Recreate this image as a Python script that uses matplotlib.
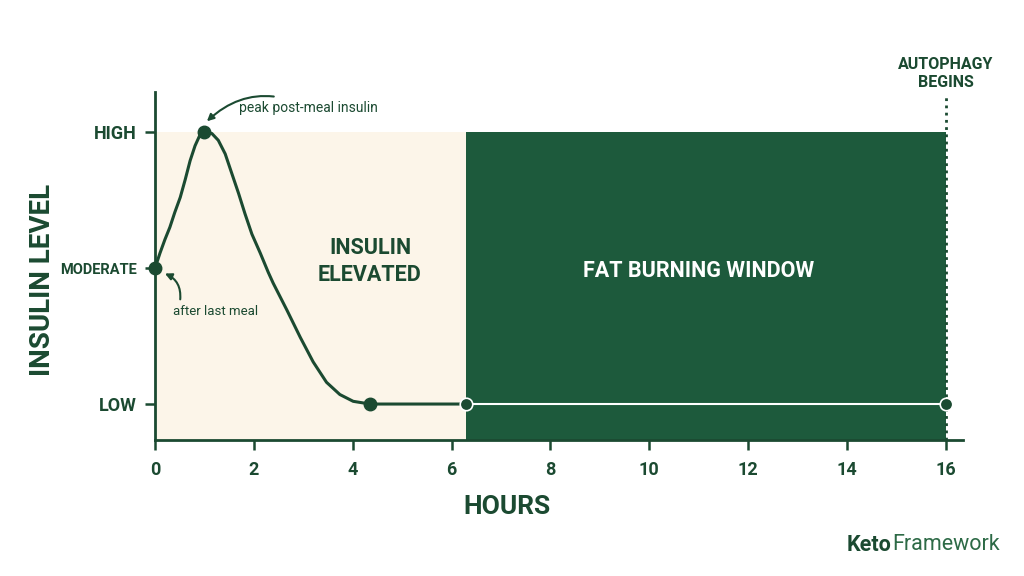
import matplotlib
matplotlib.use("Agg")
import matplotlib.pyplot as plt

# Data
hours = [0.0, 0.10, 0.20, 0.30, 0.40, 0.51, 0.61, 0.71, 0.81, 0.91, 1.0, 1.15,
         1.28, 1.42, 1.55, 1.69, 1.82, 1.96, 2.13, 2.29, 2.39, 2.67, 2.94, 3.20,
         3.47, 3.74, 4.01, 4.35, 6.3]
insulin = [1.0, 1.11, 1.21, 1.30, 1.41, 1.52, 1.65, 1.79, 1.90, 1.98, 2.0, 1.99,
           1.94, 1.84, 1.70, 1.55, 1.40, 1.25, 1.11, 0.97, 0.89, 0.69, 0.49, 0.31,
           0.16, 0.07, 0.02, 0.0, 0.0]
fasting_hours = [6.3, 16.0]
fasting_insulin = [0.0, 0.0]
key_hours = [0.0, 1.0, 4.35]
key_levels = [1.0, 2.0, 0.0]
level_ticks = [0, 1, 2]
level_labels = ["LOW", "MODERATE", "HIGH"]
hour_ticks = [0, 2, 4, 6, 8, 10, 12, 14, 16]
elevated_end = 6.3
autophagy_start = 16.0

DARK = "#1b4a31"
GREEN = "#1d5a3c"
CREAM = "#fcf5e9"

plt.rcParams["font.family"] = ["Roboto", "DejaVu Sans"]

fig = plt.figure(figsize=(10.24, 5.76), dpi=100)
ax = fig.add_axes([0.1514, 0.236, 0.789, 0.604])
ax.set_xlim(0, 16.35)
ax.set_ylim(-0.265, 2.294)

# shaded zones
ax.fill_between([0, elevated_end], -0.265, 2.0, color=CREAM, lw=0, zorder=0)
ax.fill_between([elevated_end, autophagy_start], -0.265, 2.0, color=GREEN, lw=0, zorder=0)

ax.text(4.35, 1.05, "INSULIN\nELEVATED", ha="center", va="center", fontsize=15.5,
        fontweight="bold", color=DARK, linespacing=1.3)
ax.text(11.0, 0.98, "FAT BURNING WINDOW", ha="center", va="center", fontsize=15.5,
        fontweight="bold", color="white")

# curve
ax.plot(hours, insulin, color=DARK, lw=2.2, zorder=3, solid_capstyle="round",
        solid_joinstyle="round")
ax.plot(fasting_hours, fasting_insulin, color="white", lw=1.5, zorder=3)
ax.plot(key_hours, key_levels, "o", color=DARK, ms=9, zorder=4, clip_on=False)
ax.plot(fasting_hours, fasting_insulin, "o", color=DARK, mec="white", mew=1.2,
        ms=9, zorder=4, clip_on=False)

# autophagy marker
ax.plot([autophagy_start, autophagy_start], [-0.265, 2.27], color=DARK, lw=2,
        ls=(0, (1, 1.6)), zorder=2, clip_on=False)
ax.text(16.0, 2.43, "AUTOPHAGY\nBEGINS", ha="center", va="center", fontsize=11.5,
        fontweight="bold", color=DARK, linespacing=1.2, clip_on=False)

# annotations
ax.annotate("peak post-meal insulin", xy=(1.05, 2.08), xytext=(1.7, 2.18),
            fontsize=10, color=DARK, va="center", ha="left",
            arrowprops=dict(arrowstyle="-|>", color=DARK, lw=1.5,
                            connectionstyle="arc3,rad=0.35", shrinkA=6, shrinkB=0,
                            mutation_scale=10))
ax.annotate("", xy=(0.2, 0.96), xytext=(0.51, 0.77),
            arrowprops=dict(arrowstyle="-|>", color=DARK, lw=1.5,
                            connectionstyle="arc3,rad=0.35", shrinkA=0, shrinkB=0,
                            mutation_scale=10))
ax.text(0.36, 0.68, "after last meal", fontsize=9.5, color=DARK, ha="left", va="center")

# axes styling
for side in ["top", "right"]:
    ax.spines[side].set_visible(False)
for side in ["left", "bottom"]:
    ax.spines[side].set_color(DARK)
    ax.spines[side].set_linewidth(2)

ax.set_xticks(hour_ticks)
ax.set_xticklabels([str(h) for h in hour_ticks])
ax.set_yticks(level_ticks)
ax.set_yticklabels(level_labels)
ax.tick_params(axis="both", colors=DARK, width=1.8, length=7, labelsize=13)
ax.tick_params(axis="x", pad=8)
ax.tick_params(axis="y", pad=6)
for lab in ax.get_xticklabels() + ax.get_yticklabels():
    lab.set_fontweight("bold")
ax.get_yticklabels()[1].set_fontsize(10.5)

ax.set_xlabel("HOURS", fontsize=19, fontweight="bold", color=DARK)
ax.xaxis.set_label_coords(0.436, -0.158)
ax.set_ylabel("INSULIN LEVEL", fontsize=20, fontweight="bold", color=DARK)
ax.yaxis.set_label_coords(-0.122, 0.46)

# brand
fig.text(0.871, 0.054, "Keto", ha="right", va="center", fontsize=15.5,
         fontweight="bold", color=DARK)
fig.text(0.871, 0.054, "Framework", ha="left", va="center", fontsize=15.5,
         color="#2d6a46")

fig.savefig("out.png", dpi=100, facecolor="white")
